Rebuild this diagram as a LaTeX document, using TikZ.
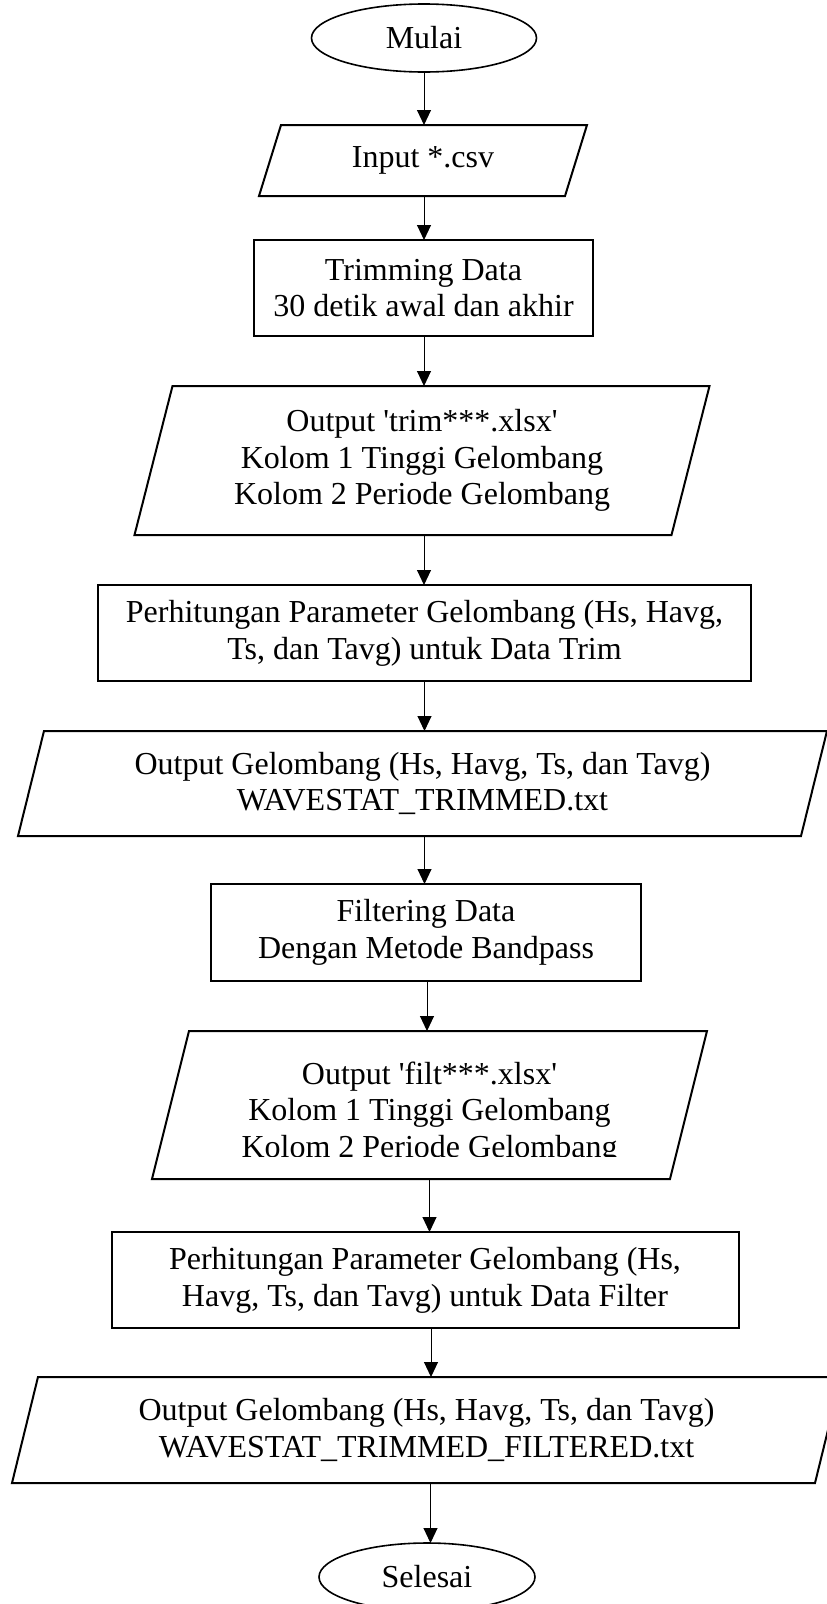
\documentclass[tikz,border=0pt]{standalone}
\usepackage{fontspec}
\setmainfont{Liberation Serif}[Ligatures=TeXOff]
\usetikzlibrary{arrows.meta,shapes.geometric}
\newcommand\drawpara[2]{\draw[iobord] ([xshift=#2pt]#1.north west) -- ([xshift=#2pt]#1.north east) -- ([xshift=-#2pt]#1.south east) -- ([xshift=-#2pt]#1.south west) -- cycle;}
\begin{document}
\begin{tikzpicture}[x=1pt,y=-1pt,
  txt/.style={font=\fontsize{32}{36.7}\selectfont, align=center, inner sep=0pt, outer sep=0pt},
  proc/.style={txt, draw, line width=2pt, rectangle},
  term/.style={txt, draw, line width=1.6pt, ellipse},
  io/.style={txt, rectangle},
  iobord/.style={line width=2pt, line join=miter},
  arr/.style={-{Triangle[length=15pt,width=14pt]}, line width=1pt}]
\useasboundingbox (0,0) rectangle (827,1604);
\node[term, minimum width=225pt, minimum height=68pt] (start) at (424,38) {Mulai};
\node[io, minimum width=306pt, minimum height=71pt] (input) at (423,160.5) {Input *.csv};
\drawpara{input}{11}
\node[proc, minimum width=339pt, minimum height=96pt] (trimming) at (423.5,288) {Trimming Data\\30 detik awal dan akhir};
\node[io, minimum width=537pt, minimum height=149pt] (trimout) at (422,460.5) {Output 'trim***.xlsx'\\Kolom 1 Tinggi Gelombang\\Kolom 2 Periode Gelombang};
\drawpara{trimout}{19}
\node[proc, minimum width=653pt, minimum height=96pt] (hitung1) at (424.5,633) {Perhitungan Parameter Gelombang (Hs, Havg,\\Ts, dan Tavg) untuk Data Trim};
\node[io, minimum width=783pt, minimum height=105pt] (stat1) at (422.5,783.5) {Output Gelombang (Hs, Havg, Ts, dan Tavg)\\WAVESTAT\_TRIMMED.txt};
\drawpara{stat1}{13}
\node[proc, minimum width=430pt, minimum height=97pt] (filter) at (426,932.5) {Filtering Data\\Dengan Metode Bandpass};
\node[io, minimum width=518pt, minimum height=148pt] (filtout) at (429.5,1105) {};
\begin{scope}
\clip (0,0) rectangle (827,1156);
\node[io] (filttext) at ([yshift=-8pt]filtout.center) {Output 'filt***.xlsx'\\Kolom 1 Tinggi Gelombang\\Kolom 2 Periode Gelombang};
\end{scope}
\drawpara{filtout}{18.5}
\node[proc, minimum width=627pt, minimum height=96pt] (hitung2) at (425,1280) {Perhitungan Parameter Gelombang (Hs,\\Havg, Ts, dan Tavg) untuk Data Filter};
\node[io, minimum width=803pt, minimum height=106pt] (stat2) at (426.5,1430) {Output Gelombang (Hs, Havg, Ts, dan Tavg)\\WAVESTAT\_TRIMMED\_FILTERED.txt};
\drawpara{stat2}{13}
\node[term, minimum width=216pt, minimum height=68pt] (stop) at (427,1577) {Selesai};
\draw[arr] (start.south) -- (start.south |- input.north);
\draw[arr] ([xshift=1pt]input.south) -- ([xshift=1pt]input.south |- trimming.north);
\draw[arr] ([xshift=0.5pt]trimming.south) -- ([xshift=0.5pt]trimming.south |- trimout.north);
\draw[arr] ([xshift=2pt]trimout.south) -- ([xshift=2pt]trimout.south |- hitung1.north);
\draw[arr] (hitung1.south) -- (hitung1.south |- stat1.north);
\draw[arr] ([xshift=2pt]stat1.south) -- ([xshift=2pt]stat1.south |- filter.north);
\draw[arr] ([xshift=1pt]filter.south) -- ([xshift=1pt]filter.south |- filtout.north);
\draw[arr] (filtout.south) -- (filtout.south |- hitung2.north);
\draw[arr] ([xshift=6pt]hitung2.south) -- ([xshift=6pt]hitung2.south |- stat2.north);
\draw[arr] ([xshift=4pt]stat2.south) -- ([xshift=4pt]stat2.south |- stop.north);
\end{tikzpicture}
\end{document}
